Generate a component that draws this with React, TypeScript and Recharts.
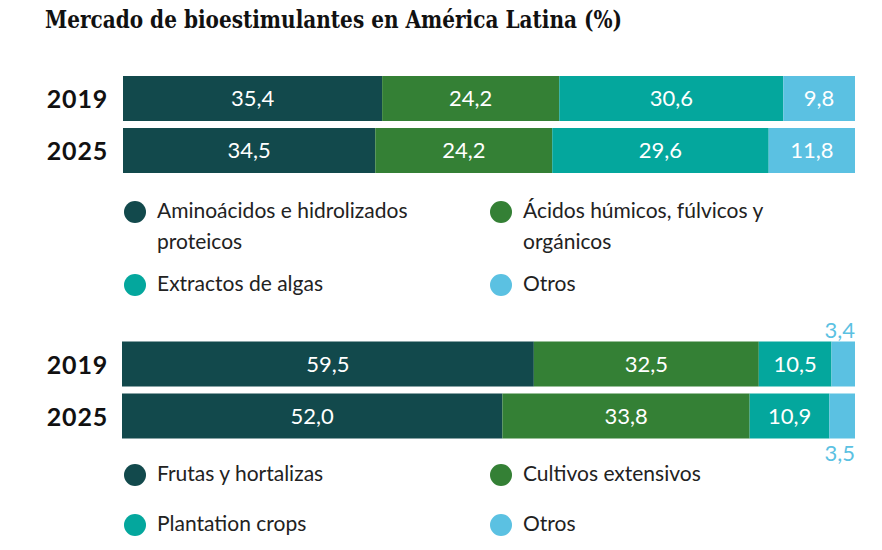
import React from 'react';
import { BarChart, Bar, XAxis, YAxis, LabelList } from 'recharts';

// ---- Data ----
const titleText = 'Mercado de bioestimulantes en América Latina (%)';
const years = ['2019', '2025'];

const ingredientNames = ['Aminoácidos e hidrolizados\nproteicos', 'Ácidos húmicos, fúlvicos y\norgánicos', 'Extractos de algas', 'Otros'];
const aminoacidos = [35.4, 34.5];
const acidos = [24.2, 24.2];
const extractos = [30.6, 29.6];
const otrosIngredientes = [9.8, 11.8];

const cropNames = ['Frutas y hortalizas', 'Cultivos extensivos', 'Plantation crops', 'Otros'];
const frutas = [59.5, 52.0];
const cultivos = [32.5, 33.8];
const plantation = [10.5, 10.9];
const otrosCultivos = [3.4, 3.5];

const colors = ['#12494c', '#348035', '#04a79d', '#5bc1e2'];
const keys = ['a', 'b', 'c', 'd'];

const ingredientData = years.map((y, i) => ({
  year: y,
  a: aminoacidos[i],
  b: acidos[i],
  c: extractos[i],
  d: otrosIngredientes[i],
}));

const cropData = years.map((y, i) => ({
  year: y,
  a: frutas[i],
  b: cultivos[i],
  c: plantation[i],
  d: otrosCultivos[i],
}));

const fmt = (v: any) => Number(v).toFixed(1).replace('.', ',');

const labelFont = 'Lato, "Open Sans", sans-serif';

const YearTick = (props: any) => {
  const { x, y, payload } = props;
  return (
    <text
      x={x}
      y={y}
      textAnchor="end"
      dominantBaseline="central"
      fontFamily={labelFont}
      fontWeight={700}
      fontSize={25}
      letterSpacing={0.8}
      fill="#111"
    >
      {payload.value}
    </text>
  );
};

const OutsideLabel = (props: any) => {
  const { x, y, width, height, index, value } = props;
  const above = index === 0;
  return (
    <text
      x={Number(x) + Number(width)}
      y={above ? Number(y) - 4 : Number(y) + Number(height) + 5}
      textAnchor="end"
      dominantBaseline={above ? 'auto' : 'hanging'}
      fontFamily={labelFont}
      fontSize={22}
      fill={colors[3]}
    >
      {fmt(value)}
    </text>
  );
};

const Legendgrid = ({ names, rows }: { names: string[]; rows: number[] }) => (
  <>
    {names.map((n, i) => {
      const col = i % 2;
      const row = Math.floor(i / 2);
      const cx = col === 0 ? 135 : 501;
      return (
        <div
          key={n}
          style={{
            position: 'absolute',
            left: cx - 11,
            top: rows[row] - 15.5,
            display: 'flex',
            alignItems: 'flex-start',
          }}
        >
          <div
            style={{
              width: 22,
              height: 22,
              borderRadius: 11,
              background: colors[i],
              marginTop: 4.5,
              flex: 'none',
            }}
          />
          <div
            style={{
              marginLeft: 11,
              marginTop: -3,
              fontFamily: labelFont,
              fontSize: 21,
              lineHeight: '31px',
              color: '#222',
              whiteSpace: 'pre-line',
            }}
          >
            {n}
          </div>
        </div>
      );
    })}
  </>
);

export default function App() {
  return (
    <div
      style={{
        position: 'absolute',
        left: 0,
        top: 0,
        width: 882,
        height: 550,
        background: '#fff',
        overflow: 'hidden',
      }}
    >
      <svg width={882} height={40} style={{ position: 'absolute', left: 0, top: 0 }}>
        <text
          x={45}
          y={28}
          fontFamily='"DejaVu Serif", serif'
          fontWeight={700}
          fontSize={24}
          textLength={577}
          lengthAdjust="spacingAndGlyphs"
          fill="#111"
        >
          {titleText}
        </text>
      </svg>

      <div style={{ position: 'absolute', left: 0, top: 0 }}>
        <BarChart
          width={882}
          height={310}
          data={ingredientData}
          layout="vertical"
          stackOffset="expand"
          barSize={45}
          margin={{ top: 72, right: 27, left: 0, bottom: 134 }}
        >
          <XAxis type="number" hide domain={[0, 1]} />
          <YAxis
            type="category"
            dataKey="year"
            width={123}
            axisLine={false}
            tickLine={false}
            tickMargin={9}
            tick={<YearTick />}
          />
          {keys.map((k, i) => (
            <Bar key={k} dataKey={k} stackId="s" fill={colors[i]} isAnimationActive={false}>
              <LabelList
                dataKey={k}
                position="center"
                formatter={fmt}
                fill="#fff"
                fontFamily={labelFont}
                fontSize={22}
              />
            </Bar>
          ))}
        </BarChart>
      </div>

      <div style={{ position: 'absolute', left: 0, top: 300 }}>
        <BarChart
          width={882}
          height={250}
          data={cropData}
          layout="vertical"
          stackOffset="expand"
          barSize={45}
          margin={{ top: 37.5, right: 27, left: 0, bottom: 108.5 }}
        >
          <XAxis type="number" hide domain={[0, 1]} />
          <YAxis
            type="category"
            dataKey="year"
            width={122}
            axisLine={false}
            tickLine={false}
            tickMargin={8}
            tick={<YearTick />}
          />
          {keys.map((k, i) => (
            <Bar key={k} dataKey={k} stackId="s" fill={colors[i]} isAnimationActive={false}>
              {i < 3 ? (
                <LabelList
                  dataKey={k}
                  position="center"
                  formatter={fmt}
                  fill="#fff"
                  fontFamily={labelFont}
                  fontSize={22}
                />
              ) : (
                <LabelList dataKey={k} content={<OutsideLabel />} />
              )}
            </Bar>
          ))}
        </BarChart>
      </div>

      <Legendgrid names={ingredientNames} rows={[212, 285]} />
      <Legendgrid names={cropNames} rows={[475, 525]} />
    </div>
  );
}
